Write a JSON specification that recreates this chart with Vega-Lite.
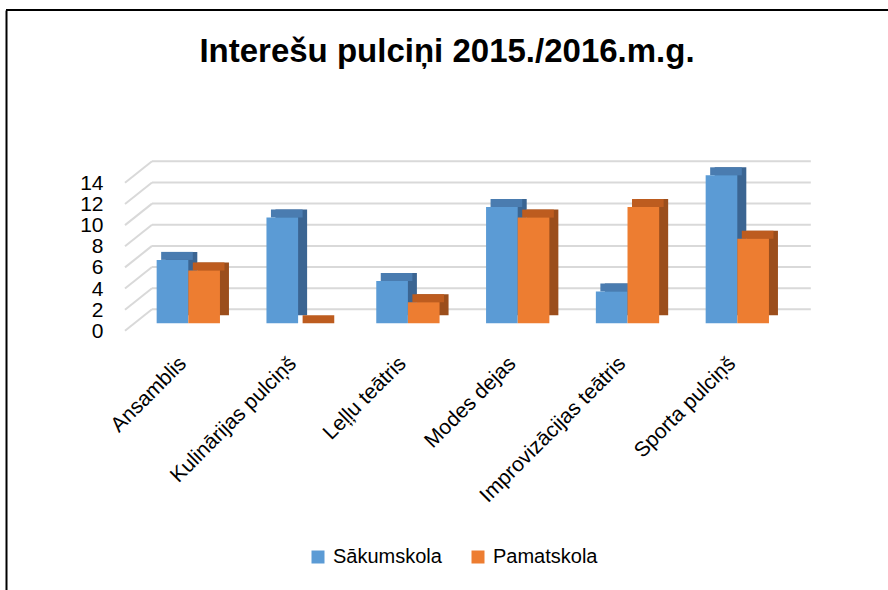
{
  "$schema": "https://vega.github.io/schema/vega-lite/v6.json",
  "width": 882,
  "height": 580,
  "autosize": {"type": "none"},
  "padding": {"left": 6, "top": 10, "right": 0, "bottom": 0},
  "background": "white",
  "config": {"view": {"stroke": null}, "font": "Liberation Sans"},
  "title": {
    "text": "Interešu pulciņi 2015./2016.m.g.",
    "fontSize": 33,
    "fontWeight": "bold",
    "color": "#000000",
    "anchor": "middle",
    "frame": "group",
    "baseline": "alphabetic",
    "offset": -86
  },
  "datasets": {
    "bars": [
      {"cat": "Ansamblis", "series": "Sākumskola", "value": 6},
      {"cat": "Ansamblis", "series": "Pamatskola", "value": 5},
      {"cat": "Kulinārijas pulciņš", "series": "Sākumskola", "value": 10},
      {"cat": "Kulinārijas pulciņš", "series": "Pamatskola", "value": 0},
      {"cat": "Leļļu teātris", "series": "Sākumskola", "value": 4},
      {"cat": "Leļļu teātris", "series": "Pamatskola", "value": 2},
      {"cat": "Modes dejas", "series": "Sākumskola", "value": 11},
      {"cat": "Modes dejas", "series": "Pamatskola", "value": 10},
      {"cat": "Improvizācijas teātris", "series": "Sākumskola", "value": 3},
      {"cat": "Improvizācijas teātris", "series": "Pamatskola", "value": 11},
      {"cat": "Sporta pulciņš", "series": "Sākumskola", "value": 14},
      {"cat": "Sporta pulciņš", "series": "Pamatskola", "value": 8}
    ],
    "grid": [
      {"g": 0}, {"g": 2}, {"g": 4}, {"g": 6}, {"g": 8}, {"g": 10}, {"g": 12}, {"g": 14}
    ],
    "frame": [
      {"top": 29.64}
    ]
  },
  "layer": [
    {
      "data": {"name": "grid"},
      "mark": {"type": "rule", "color": "#d9d9d9", "strokeWidth": 2, "yOffset": -14, "y2Offset": -14, "xOffset": -4.66, "x2Offset": 41.85},
      "encoding": {
        "x": {"datum": "Ansamblis", "type": "nominal", "bandPosition": 0,
              "scale": {"domain": ["Ansamblis", "Kulinārijas pulciņš", "Leļļu teātris", "Modes dejas", "Improvizācijas teātris", "Sporta pulciņš"], "range": [150.66, 762.96], "paddingInner": 0.4235, "paddingOuter": 0, "round": false},
              "axis": null},
        "x2": {"datum": "Sporta pulciņš", "bandPosition": 1},
        "y": {"field": "g", "type": "quantitative",
              "scale": {"domain": [-25.23, 29.64], "nice": false, "zero": false},
              "axis": {"orient": "left", "offset": 0, "domain": true, "domainColor": "#000000", "domainWidth": 2, "labels": false, "ticks": false, "grid": false, "title": null}},
        "y2": {"field": "g"}
      }
    },
    {
      "data": {"name": "grid"},
      "mark": {"type": "rule", "color": "#d9d9d9", "strokeWidth": 2, "yOffset": 7.5, "y2Offset": -14, "xOffset": -31.66, "x2Offset": -4.66},
      "encoding": {
        "x": {"datum": "Ansamblis", "type": "nominal", "bandPosition": 0, "axis": null},
        "x2": {"datum": "Ansamblis", "bandPosition": 0},
        "y": {"field": "g", "type": "quantitative", "axis": null},
        "y2": {"field": "g"}
      }
    },
    {
      "data": {"name": "frame"},
      "mark": {"type": "rule", "color": "#000000", "strokeWidth": 2},
      "encoding": {
        "y": {"field": "top", "type": "quantitative", "axis": null}
      }
    },
    {
      "data": {"name": "bars"},
      "mark": {"type": "bar", "yOffset": -8, "y2Offset": -4},
      "encoding": {
        "x": {"field": "cat", "type": "nominal", "sort": null,
              "scale": {"domain": ["Ansamblis", "Kulinārijas pulciņš", "Leļļu teātris", "Modes dejas", "Improvizācijas teātris", "Sporta pulciņš"], "range": [150.66, 762.96], "paddingInner": 0.4235, "paddingOuter": 0, "round": false},
              "axis": {"orient": "bottom", "offset": -230, "domain": false, "ticks": false, "tickSize": 0, "labelPadding": 0, "labelAngle": -45, "labelAlign": "right", "labelBaseline": "middle", "labelOffset": -5, "labelFontSize": 21, "labelLimit": 0, "labelColor": "#000000", "labelFont": "Liberation Sans", "title": null, "grid": false}},
        "xOffset": {"field": "series", "type": "nominal", "sort": ["Sākumskola", "Pamatskola"], "scale": {"domain": ["Sākumskola", "Pamatskola"], "range": [9, 72.3], "paddingInner": 0, "paddingOuter": 0}},
        "y": {"field": "value", "type": "quantitative",
              "scale": {"domain": [-25.23, 29.64], "nice": false, "zero": false},
              "axis": {"orient": "left", "offset": -97, "domain": false, "ticks": false, "tickSize": 0, "labelPadding": 0, "labelOffset": 8, "grid": false, "values": [0, 2, 4, 6, 8, 10, 12, 14], "labelFontSize": 21, "labelColor": "#000000", "labelFont": "Liberation Sans", "title": null}},
        "color": {"field": "series", "type": "nominal", "scale": {"domain": ["Sākumskola", "Pamatskola"], "range": ["#3b6592", "#9b4e1c"]}, "legend": null}
      }
    },
    {
      "data": {"name": "bars"},
      "mark": {"type": "bar", "yOffset": -8, "y2Offset": 0},
      "encoding": {
        "x": {"field": "cat", "type": "nominal", "sort": null, "axis": null},
        "xOffset": {"field": "series", "type": "nominal", "sort": ["Sākumskola", "Pamatskola"], "scale": {"domain": ["Sākumskola", "Pamatskola"], "range": [4.5, 67.8], "paddingInner": 0, "paddingOuter": 0}},
        "y": {"field": "value", "type": "quantitative", "axis": null},
        "y2": {"field": "value"},
        "color": {"field": "series", "type": "nominal", "scale": {"domain": ["Sākumskola", "Pamatskola"], "range": ["#4a7cb0", "#bd5c1f"]}, "legend": null}
      }
    },
    {
      "data": {"name": "bars"},
      "mark": {"type": "bar"},
      "encoding": {
        "x": {"field": "cat", "type": "nominal", "sort": null, "axis": null},
        "xOffset": {"field": "series", "type": "nominal", "sort": ["Sākumskola", "Pamatskola"], "scale": {"domain": ["Sākumskola", "Pamatskola"], "range": [0, 63.3], "paddingInner": 0, "paddingOuter": 0}},
        "y": {"field": "value", "type": "quantitative", "axis": null},
        "color": {"field": "series", "type": "nominal",
                  "scale": {"domain": ["Sākumskola", "Pamatskola"], "range": ["#5b9bd5", "#ed7d31"]},
                  "legend": {"orient": "none", "legendX": 302, "legendY": 537, "direction": "horizontal", "title": null, "symbolType": "square", "symbolSize": 169, "symbolStrokeWidth": 0, "labelFontSize": 20, "labelFont": "Liberation Sans", "labelColor": "#000000", "labelOffset": 5, "columnPadding": 26, "padding": 0}}
      }
    }
  ],
  "resolve": {"axis": {"x": "independent", "y": "independent"}, "scale": {"color": "independent", "xOffset": "independent"}}
}
